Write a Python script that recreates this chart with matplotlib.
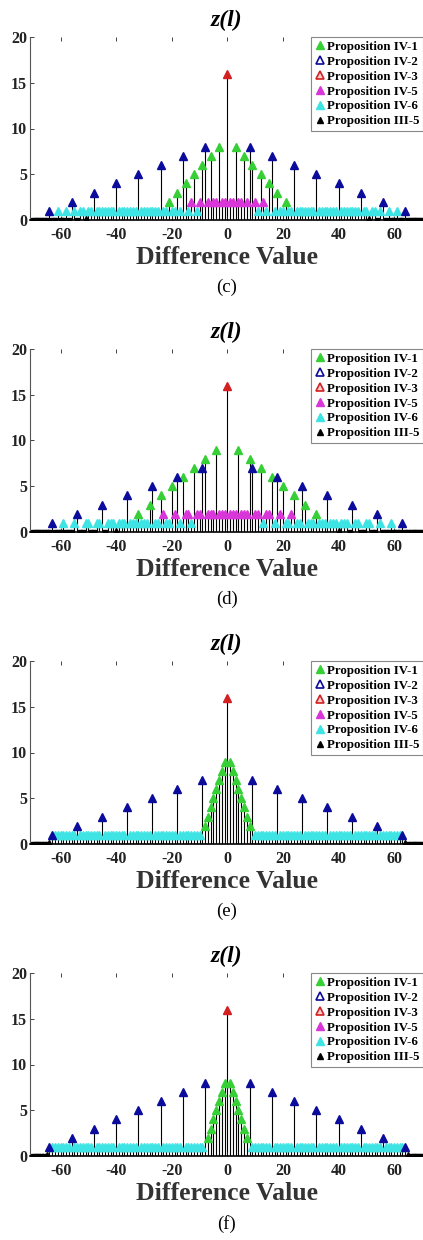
import matplotlib
matplotlib.use('Agg')
import matplotlib.pyplot as plt
from matplotlib.lines import Line2D

plt.rcParams['font.family'] = ['Liberation Serif', 'DejaVu Serif']
plt.rcParams['axes.unicode_minus'] = False

# difference values l = -70 ... 70
l_vals = list(range(-70, 71))

# z(l) for each panel (l = -70 ... 70)
z_c = [0, 0, 0, 0, 0, 0, 1, 0, 0, 1,
       0, 0, 1, 0, 2, 1, 0, 1, 1, 0,
       1, 1, 3, 1, 1, 1, 1, 1, 1, 1,
       4, 1, 1, 1, 1, 1, 1, 1, 5, 1,
       1, 1, 1, 1, 1, 1, 6, 1, 1, 2,
       1, 1, 3, 1, 7, 4, 1, 2, 5, 1,
       2, 6, 8, 2, 7, 2, 2, 8, 2, 2,
       16,
       2, 2, 8, 2, 2, 7, 2, 8, 6, 2,
       1, 5, 2, 1, 4, 7, 1, 3, 1, 1,
       2, 1, 1, 6, 1, 1, 1, 1, 1, 1,
       1, 5, 1, 1, 1, 1, 1, 1, 1, 4,
       1, 1, 1, 1, 1, 1, 1, 3, 1, 1,
       0, 1, 1, 0, 1, 2, 0, 1, 0, 0,
       1, 0, 0, 1, 0, 0, 0, 0, 0, 0]

z_d = [0, 0, 0, 0, 0, 0, 0, 1, 0, 0,
       0, 1, 0, 0, 0, 1, 2, 0, 0, 1,
       1, 0, 0, 1, 1, 3, 0, 1, 1, 1,
       0, 1, 1, 1, 4, 1, 1, 1, 2, 1,
       1, 1, 3, 5, 1, 1, 4, 2, 1, 1,
       5, 2, 6, 1, 6, 2, 2, 1, 7, 2,
       2, 7, 8, 2, 2, 2, 9, 2, 2, 2,
       16,
       2, 2, 2, 9, 2, 2, 2, 8, 7, 2,
       2, 7, 1, 2, 2, 6, 1, 6, 2, 5,
       1, 1, 2, 4, 1, 1, 5, 3, 1, 1,
       1, 2, 1, 1, 1, 4, 1, 1, 1, 0,
       1, 1, 1, 0, 3, 1, 1, 0, 0, 1,
       1, 0, 0, 2, 1, 0, 0, 0, 1, 0,
       0, 0, 1, 0, 0, 0, 0, 0, 0, 0]

z_e = [0, 0, 0, 0, 0, 0, 0, 1, 1, 1,
       1, 1, 1, 1, 1, 1, 2, 1, 1, 1,
       1, 1, 1, 1, 1, 3, 1, 1, 1, 1,
       1, 1, 1, 1, 4, 1, 1, 1, 1, 1,
       1, 1, 1, 5, 1, 1, 1, 1, 1, 1,
       1, 1, 6, 1, 1, 1, 1, 1, 1, 1,
       1, 7, 2, 3, 4, 5, 6, 7, 8, 9,
       16,
       9, 8, 7, 6, 5, 4, 3, 2, 7, 1,
       1, 1, 1, 1, 1, 1, 1, 6, 1, 1,
       1, 1, 1, 1, 1, 1, 5, 1, 1, 1,
       1, 1, 1, 1, 1, 4, 1, 1, 1, 1,
       1, 1, 1, 1, 3, 1, 1, 1, 1, 1,
       1, 1, 1, 2, 1, 1, 1, 1, 1, 1,
       1, 1, 1, 0, 0, 0, 0, 0, 0, 0]

z_f = [0, 0, 0, 0, 0, 0, 1, 1, 1, 1,
       1, 1, 1, 1, 2, 1, 1, 1, 1, 1,
       1, 1, 3, 1, 1, 1, 1, 1, 1, 1,
       4, 1, 1, 1, 1, 1, 1, 1, 5, 1,
       1, 1, 1, 1, 1, 1, 6, 1, 1, 1,
       1, 1, 1, 1, 7, 1, 1, 1, 1, 1,
       1, 1, 8, 2, 3, 4, 5, 6, 7, 8,
       16,
       8, 7, 6, 5, 4, 3, 2, 8, 1, 1,
       1, 1, 1, 1, 1, 7, 1, 1, 1, 1,
       1, 1, 1, 6, 1, 1, 1, 1, 1, 1,
       1, 5, 1, 1, 1, 1, 1, 1, 1, 4,
       1, 1, 1, 1, 1, 1, 1, 3, 1, 1,
       1, 1, 1, 1, 1, 2, 1, 1, 1, 1,
       1, 1, 1, 1, 0, 0, 0, 0, 0, 0]

# positions covered by each proposition
green_c = [-21, -18, -15, -12, -9, -6, -3, 3, 6, 9, 12, 15, 18, 21]
blue_c = [-64, -56, -48, -40, -32, -24, -16, -8, 8, 16, 24, 32, 40, 48, 56, 64]
zero_c = [-51, 51]

green_d = [-32, -28, -24, -20, -16, -12, -8, -4, 4, 8, 12, 16, 20, 24, 28, 32]
blue_d = [-63, -54, -45, -36, -27, -18, -9, 9, 18, 27, 36, 45, 54, 63]
zero_d = [-40, 40]

green_e = [-8, -7, -6, -5, -4, -3, -2, -1, 1, 2, 3, 4, 5, 6, 7, 8]
blue_e = [-63, -54, -45, -36, -27, -18, -9, 9, 18, 27, 36, 45, 54, 63]
zero_e = [-64, 64]

green_f = [-7, -6, -5, -4, -3, -2, -1, 1, 2, 3, 4, 5, 6, 7]
blue_f = [-64, -56, -48, -40, -32, -24, -16, -8, 8, 16, 24, 32, 40, 48, 56, 64]
zero_f = [-65, 65]

panels = [('(c)', z_c, green_c, blue_c, zero_c),
          ('(d)', z_d, green_d, blue_d, zero_d),
          ('(e)', z_e, green_e, blue_e, zero_e),
          ('(f)', z_f, green_f, blue_f, zero_f)]

legend_labels = ['Proposition IV-1', 'Proposition IV-2', 'Proposition IV-3',
                 'Proposition IV-5', 'Proposition IV-6', 'Proposition III-5']

c_green = '#36cf36'
c_blue = '#0b0b9c'
c_red = '#d42020'
c_mag = '#d836d8'
c_cyan = '#3ee3e3'

W, H = 423, 1240
fig = plt.figure(figsize=(W / 100, H / 100), dpi=100)

ms = 6.3
for i, (tag, z, g_l, b_l, zero_l) in enumerate(panels):
    top_px = 37 + 312 * i
    bot_px = 220 + 312 * i
    ax = fig.add_axes([30 / W, 1 - bot_px / H, 1 - 30 / W, (bot_px - top_px) / H])

    # stems
    stem_x = [x for x, v in zip(l_vals, z) if v > 0]
    stem_y = [v for v in z if v > 0]
    ax.vlines(stem_x, 0, stem_y, colors='black', linewidth=0.8, zorder=1)

    def pick(cond):
        xs = [x for x, v in zip(l_vals, z) if cond(x, v)]
        ys = [v for x, v in zip(l_vals, z) if cond(x, v)]
        return xs, ys

    special = set(g_l) | set(b_l) | {0}
    cx, cy = pick(lambda x, v: v == 1 and x not in special)
    mx, my = pick(lambda x, v: v == 2 and x not in special)
    gx, gy = pick(lambda x, v: x in g_l)
    bx, by = pick(lambda x, v: x in b_l)
    rx, ry = pick(lambda x, v: x == 0)
    kx, ky = pick(lambda x, v: v == 0 and x not in zero_l)
    tx, ty = pick(lambda x, v: x in zero_l)

    ax.plot(kx, ky, 's', color='black', markersize=2.8, zorder=2)
    ax.plot(cx, cy, '^', color=c_cyan, markersize=ms, zorder=3)
    ax.plot(mx, my, '^', color=c_mag, markersize=ms, zorder=3)
    ax.plot(gx, gy, '^', color=c_green, markersize=ms, zorder=4)
    ax.plot(bx, by, '^', color=c_blue, markersize=ms, zorder=4)
    ax.plot(rx, ry, '^', color=c_red, markersize=ms, zorder=4)
    ax.plot(tx, ty, '^', color='black', markersize=ms, zorder=4)

    ax.set_xlim(-71, 70.4)
    ax.set_ylim(0, 20)
    ax.set_xticks([-60, -40, -20, 0, 20, 40, 60])
    ax.set_yticks([0, 5, 10, 15, 20])
    ax.tick_params(axis='both', direction='in', length=3, labelsize=11.5,
                   colors='#222222', top=True, width=0.6)
    ax.tick_params(axis='x', pad=5)
    ax.tick_params(axis='y', pad=2)
    for lab in ax.get_xticklabels() + ax.get_yticklabels():
        lab.set_fontweight('bold')
    ax.spines['top'].set_visible(False)
    ax.spines['right'].set_visible(False)
    ax.spines['left'].set_color('#555555')
    ax.spines['left'].set_linewidth(0.8)
    ax.spines['bottom'].set_color('black')
    ax.spines['bottom'].set_linewidth(1.2)

    ax.text(0.5, 1.093, 'z(l)', transform=ax.transAxes, ha='center', va='center',
            fontsize=17, fontweight='bold', fontstyle='italic')
    ax.text(0.5, -0.205, 'Difference Value', transform=ax.transAxes, ha='center',
            va='center', fontsize=18.5, fontweight='bold', color='#333333')
    ax.text(0.5, -0.37, tag, transform=ax.transAxes, ha='center', va='center',
            fontsize=13.5)

    handles = [
        Line2D([], [], marker='^', linestyle='none', color=c_green, markersize=5.5),
        Line2D([], [], marker='^', linestyle='none', color=c_blue,
               markerfacecolor='white', markeredgewidth=1.2, markersize=5.5),
        Line2D([], [], marker='^', linestyle='none', color=c_red,
               markerfacecolor='#f6d0d0', markeredgewidth=1.2, markersize=5.5),
        Line2D([], [], marker='^', linestyle='none', color=c_mag, markersize=5.5),
        Line2D([], [], marker='^', linestyle='none', color=c_cyan, markersize=5.5),
        Line2D([], [], marker='^', linestyle='none', color='black', markersize=5),
    ]
    leg = ax.legend(handles, legend_labels, loc='upper right',
                    bbox_to_anchor=(1.0, 1.0), borderaxespad=0.0,
                    prop={'family': 'Liberation Serif', 'weight': 'bold', 'size': 9.3},
                    handlelength=0.7, handletextpad=0.2, labelspacing=0.22,
                    borderpad=0.3, fancybox=False, framealpha=1.0,
                    edgecolor='#888888')
    leg.get_frame().set_linewidth(0.8)

fig.savefig('out.png', dpi=100)
